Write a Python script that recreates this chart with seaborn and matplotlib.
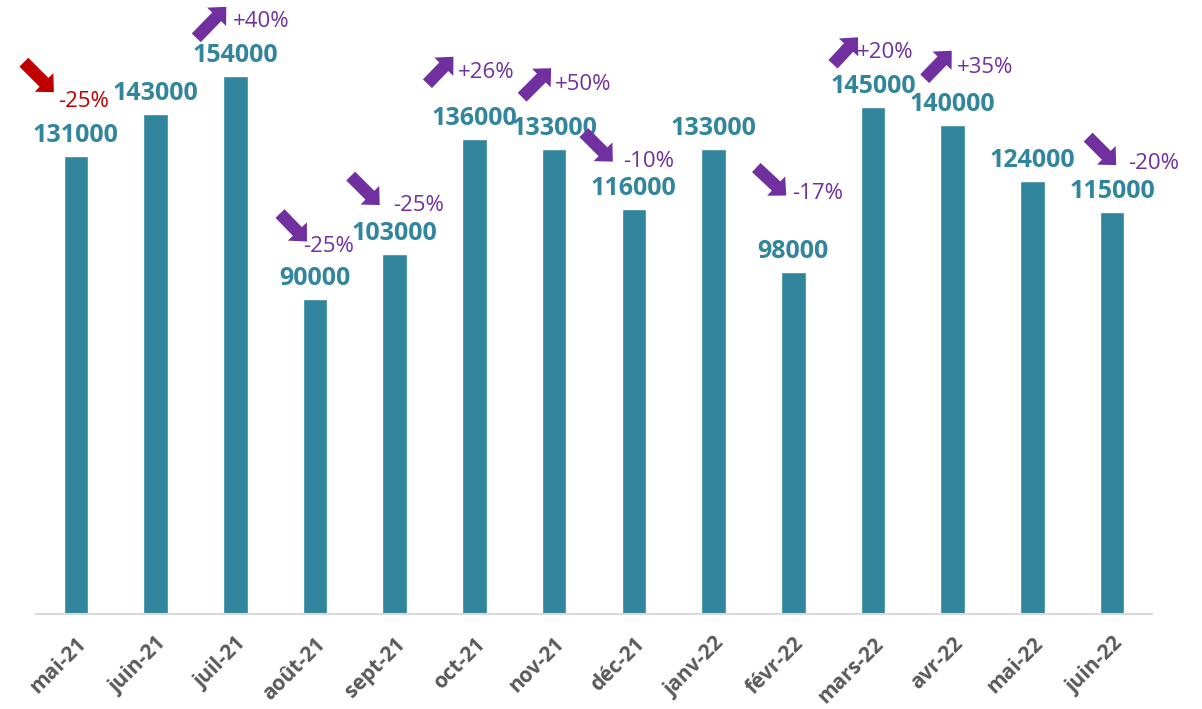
import matplotlib
matplotlib.use('Agg')
import matplotlib.pyplot as plt
import matplotlib.transforms as mtransforms
import seaborn as sns
import pandas as pd

# données du graphique
mois = ['mai-21', 'juin-21', 'juil-21', 'août-21', 'sept-21', 'oct-21', 'nov-21',
        'déc-21', 'janv-22', 'févr-22', 'mars-22', 'avr-22', 'mai-22', 'juin-22']
valeurs = [131000, 143000, 154000, 90000, 103000, 136000, 133000,
           116000, 133000, 98000, 145000, 140000, 124000, 115000]

# variations affichées (mois, texte, couleur)
var_mois = ['mai-21', 'juil-21', 'août-21', 'sept-21', 'oct-21', 'nov-21',
            'déc-21', 'févr-22', 'mars-22', 'avr-22', 'juin-22']
var_texte = ['-25%', '+40%', '-25%', '-25%', '+26%', '+50%',
             '-10%', '-17%', '+20%', '+35%', '-20%']
var_rouge = [True, False, False, False, False, False, False, False, False, False, False]

# décalages (pixels) par rapport au haut de la barre : texte, queue et pointe de la flèche
txt_off = [(8, 55), (26, 54), (14, 53), (24, 49), (12, 66), (29, 65),
           (15, 47), (24, 78), (12, 55), (32, 57), (41, 49)]
queue_off = [(-52, 94), (-39, 38), (-35, 86), (-44, 78), (-47, 55), (-32, 52),
             (-50, 76), (-37, 104), (-40, 43), (-28, 46), (-24, 75)]
pointe_off = [(-22, 64), (-9, 69), (-8, 58), (-15, 49), (-21, 82), (-3, 81),
              (-21, 47), (-7, 76), (-15, 70), (-1, 74), (4, 47)]

BLEU = '#31859C'
VIOLET = '#7030A0'
ROUGE = '#C00000'

sns.set_style('white')
plt.rcParams['font.family'] = ['Open Sans', 'DejaVu Sans']

df = pd.DataFrame({'mois': mois, 'valeur': valeurs})

fig = plt.figure(figsize=(12.02, 7.09), dpi=100)
ax = fig.add_axes([36 / 1202, 1 - 614 / 709, 1116 / 1202, 614 / 709])
sns.barplot(data=df, x='mois', y='valeur', color=BLEU, width=0.31,
            saturation=1, ax=ax)

ax.set_xlim(-0.5, len(mois) - 0.5)
ax.set_ylim(0, 175700)
ax.set_xlabel('')
ax.set_ylabel('')
ax.set_yticks([])
for s in ['top', 'right', 'left']:
    ax.spines[s].set_visible(False)
ax.spines['bottom'].set_color('#D9D9D9')
ax.spines['bottom'].set_linewidth(1.5)
ax.tick_params(axis='x', length=0, pad=14)
plt.setp(ax.get_xticklabels(), rotation=45, ha='right', rotation_mode='anchor',
         fontsize=15, fontweight='bold', color='#595959')

# étiquettes de valeur
for i, v in enumerate(valeurs):
    ax.annotate(f'{v}', xy=(i, v), xytext=(0, 14), textcoords='offset pixels',
                ha='center', va='baseline', fontsize=18, fontweight='bold',
                color=BLEU)

# flèches et pourcentages
for k, m in enumerate(var_mois):
    i = mois.index(m)
    v = valeurs[i]
    couleur = ROUGE if var_rouge[k] else VIOLET
    tx, ty = txt_off[k]
    ax.annotate(var_texte[k], xy=(i, v), xytext=(tx, ty), textcoords='offset pixels',
                ha='center', va='center', fontsize=16, color=couleur)
    qx, qy = queue_off[k]
    px, py = pointe_off[k]
    tr = mtransforms.offset_copy(ax.transData, fig=fig, x=px, y=py, units='dots')
    ax.annotate('', xy=(i, v), xycoords=tr,
                xytext=(qx - px, qy - py), textcoords='offset pixels',
                arrowprops=dict(arrowstyle='simple,head_length=1.0,head_width=1.9,tail_width=0.9',
                                mutation_scale=10, color=couleur, shrinkA=0, shrinkB=0,
                                lw=0))

fig.savefig('out.png', dpi=100)
